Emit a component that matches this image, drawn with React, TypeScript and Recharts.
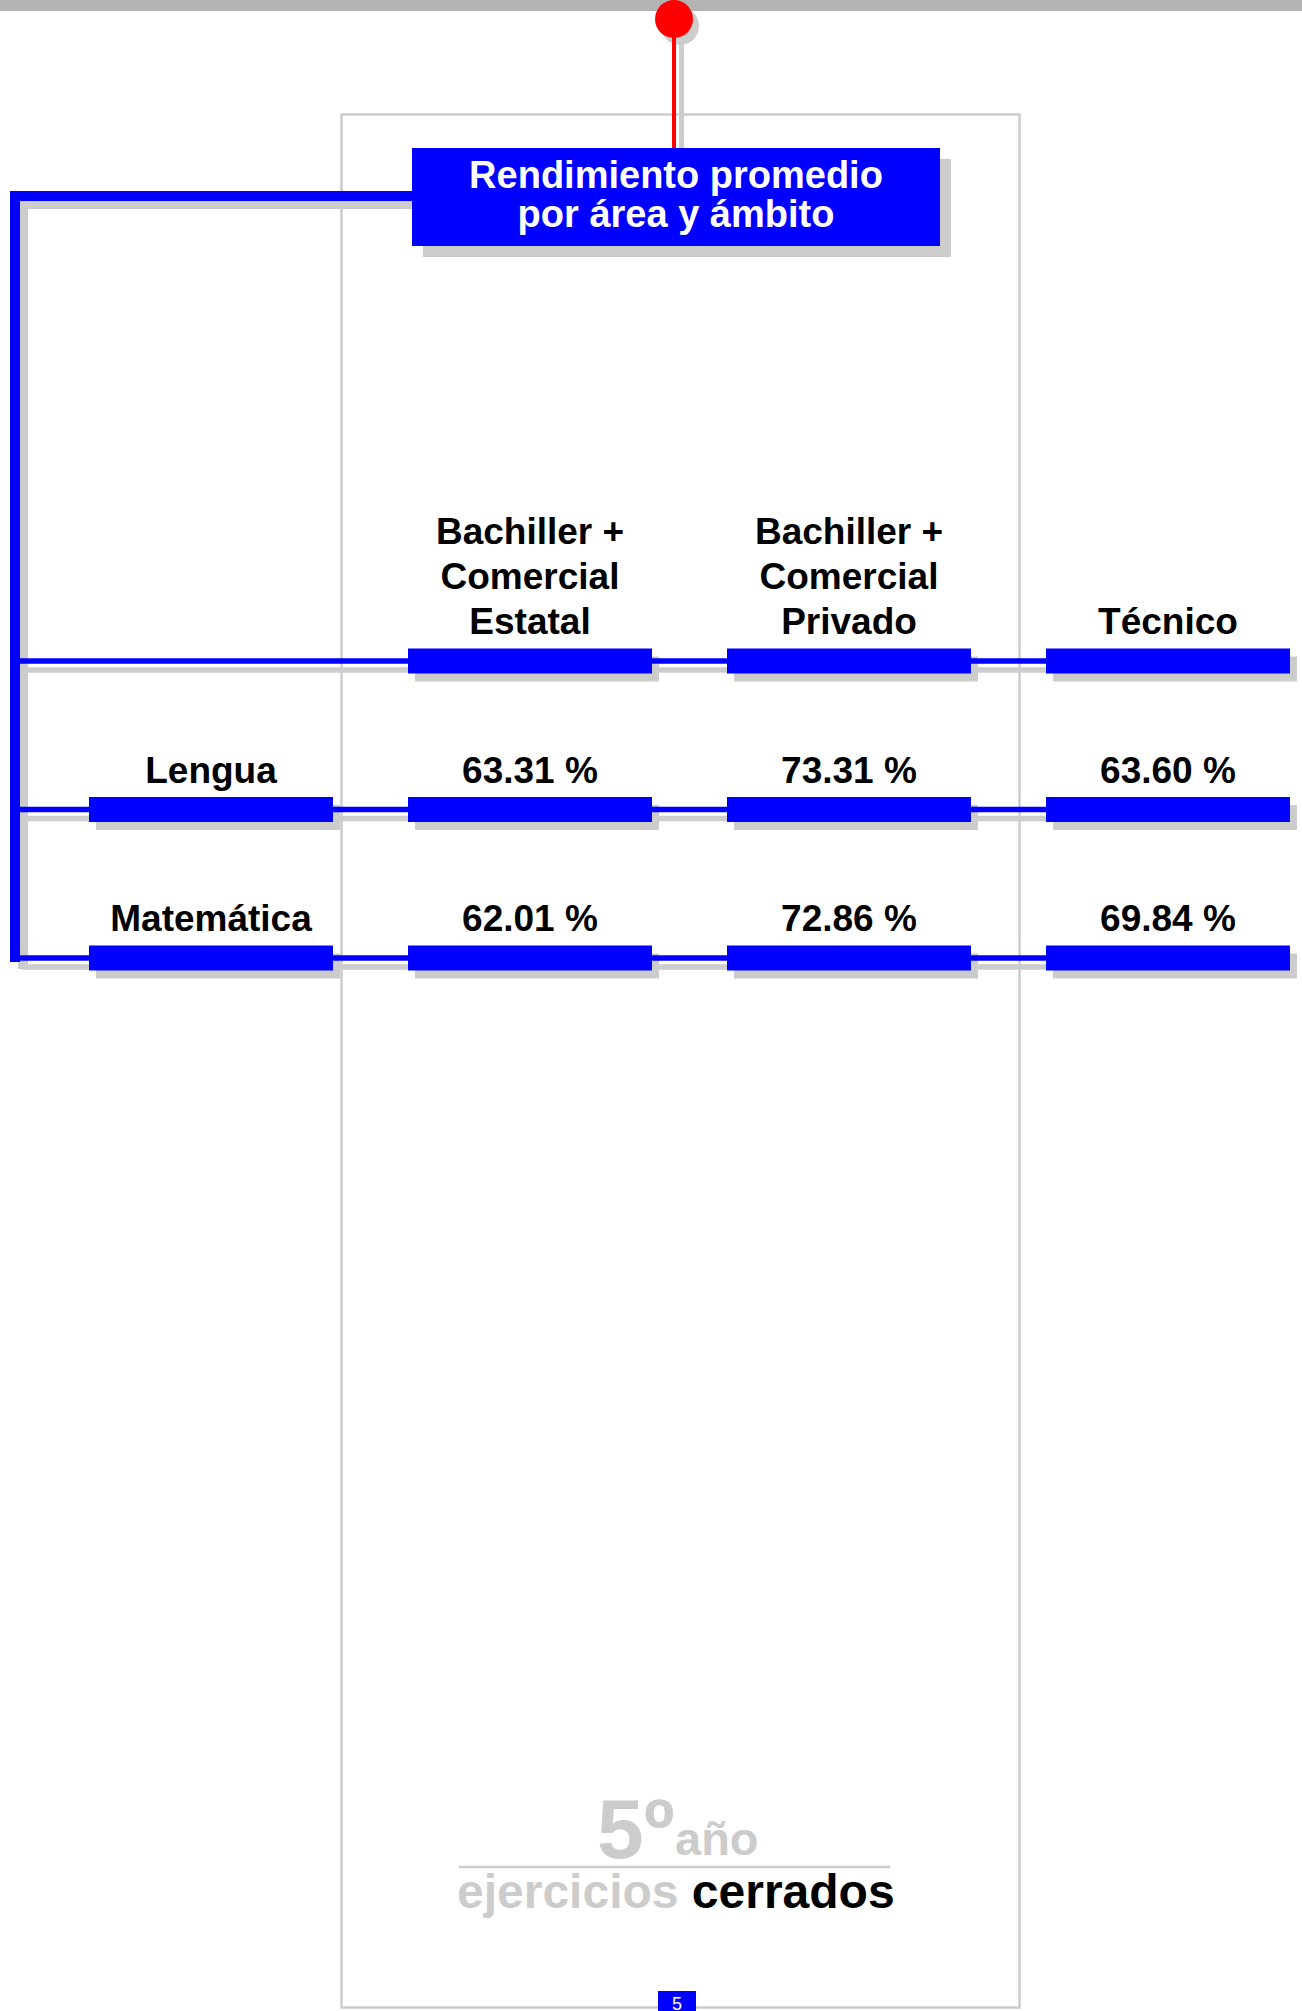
import { ScatterChart, Scatter, XAxis, YAxis } from 'recharts'

// table content
const columns = [
  ['Bachiller +', 'Comercial', 'Estatal'],
  ['Bachiller +', 'Comercial', 'Privado'],
  ['Técnico'],
]
const areas = ['Lengua', 'Matemática']
const lengua = [63.31, 73.31, 63.6]
const matematica = [62.01, 72.86, 69.84]
const title = ['Rendimiento promedio', 'por área y ámbito']

const W = 1302
const H = 2011
const BLUE = '#0000ff'
const SHADOW = '#cccccc'
const FONT = '"Liberation Sans", Arial, Helvetica, sans-serif'

const cells = [
  ...columns.map((lines, i) => ({ col: i + 1, row: 0, lines })),
  ...areas.map((a, r) => ({ col: 0, row: r + 1, lines: [a] })),
  ...[lengua, matematica].flatMap((vals, r) =>
    vals.map((v, i) => ({ col: i + 1, row: r + 1, lines: [`${v.toFixed(2)} %`] }))
  ),
]
const rowLines = [0, 1, 2].map(row => ({ col: 0, row }))

const CellShadow = (props: any) => {
  const { cx, cy } = props
  return <rect x={cx - 122 + 7} y={cy - 12.5 + 8} width={244} height={25} fill={SHADOW} />
}

const CellShape = (props: any) => {
  const { cx, cy, payload } = props
  const n = payload.lines.length
  return (
    <g>
      <rect x={cx - 122} y={cy - 12.5} width={244} height={25} fill={BLUE} />
      <text textAnchor="middle" fontFamily={FONT} fontWeight="bold" fontSize={37} fill="#000">
        {payload.lines.map((l: string, i: number) => (
          <tspan key={i} x={cx} y={cy - 27 - (n - 1 - i) * 45}>{l}</tspan>
        ))}
      </text>
    </g>
  )
}

const RowLineShape = (props: any) => {
  const { cy } = props
  return (
    <g>
      <rect x={22} y={cy - 2.75 + 9} width={1180} height={5.5} fill={SHADOW} />
      <rect x={15} y={cy - 2.75} width={1180} height={5.5} fill={BLUE} />
    </g>
  )
}

function Decorations() {
  return (
    <svg width={W} height={H} style={{ position: 'absolute', left: 0, top: 0 }}>
      <rect x={0} y={0} width={W} height={11} fill="#b3b3b3" />
      <rect x={341.5} y={114.5} width={678} height={1893} fill="none" stroke={SHADOW} strokeWidth={2.5} />
      {/* red pin */}
      <rect x={679} y={30} width={5} height={118} fill={SHADOW} />
      <circle cx={680} cy={26} r={19} fill={SHADOW} />
      <rect x={672} y={19} width={4} height={130} fill="#ff0000" />
      <circle cx={674} cy={19} r={19} fill="#ff0000" />
      {/* spine */}
      <rect x={18} y={199} width={400} height={10} fill={SHADOW} />
      <rect x={18} y={199} width={10} height={770} fill={SHADOW} />
      <rect x={10} y={191} width={402} height={10} fill={BLUE} />
      <rect x={10} y={191} width={10} height={771} fill={BLUE} />
      {/* title */}
      <rect x={423} y={159} width={528} height={98} fill={SHADOW} />
      <rect x={412} y={148} width={528} height={98} fill={BLUE} />
      <text textAnchor="middle" fontFamily={FONT} fontWeight="bold" fontSize={38} fill="#fff">
        {title.map((t, i) => (
          <tspan key={i} x={676} y={188 + i * 39}>{t}</tspan>
        ))}
      </text>
      {/* footer */}
      <text x={597} y={1858} fontFamily={FONT} fontWeight="bold" fontSize={84} fill={SHADOW}>5º</text>
      <text x={675} y={1855} fontFamily={FONT} fontWeight="bold" fontSize={47} fill={SHADOW}>año</text>
      <line x1={459} x2={890} y1={1867} y2={1867} stroke={SHADOW} strokeWidth={2.5} />
      <text x={457} y={1908} fontFamily={FONT} fontWeight="bold" fontSize={48} fill={SHADOW}>
        ejercicios <tspan fill="#000">cerrados</tspan>
      </text>
      <rect x={658} y={1991} width={38} height={25} fill={BLUE} />
      <text x={677} y={2010} textAnchor="middle" fontFamily={FONT} fontSize={18} fill="#fff">5</text>
    </svg>
  )
}

export default function App() {
  return (
    <div style={{ position: 'absolute', left: 0, top: 0, width: W, height: H, background: '#fff' }}>
      <Decorations />
      <div style={{ position: 'absolute', left: 0, top: 0 }}>
        <ScatterChart width={W} height={H} margin={{ top: 661, right: 134, bottom: 1053, left: 211 }}>
          <XAxis type="number" dataKey="col" domain={[0, 3]} hide />
          <YAxis type="number" dataKey="row" domain={[0, 2]} reversed hide />
          <Scatter data={cells} shape={CellShadow} isAnimationActive={false} />
          <Scatter data={rowLines} shape={RowLineShape} isAnimationActive={false} />
          <Scatter data={cells} shape={CellShape} isAnimationActive={false} />
        </ScatterChart>
      </div>
    </div>
  )
}
